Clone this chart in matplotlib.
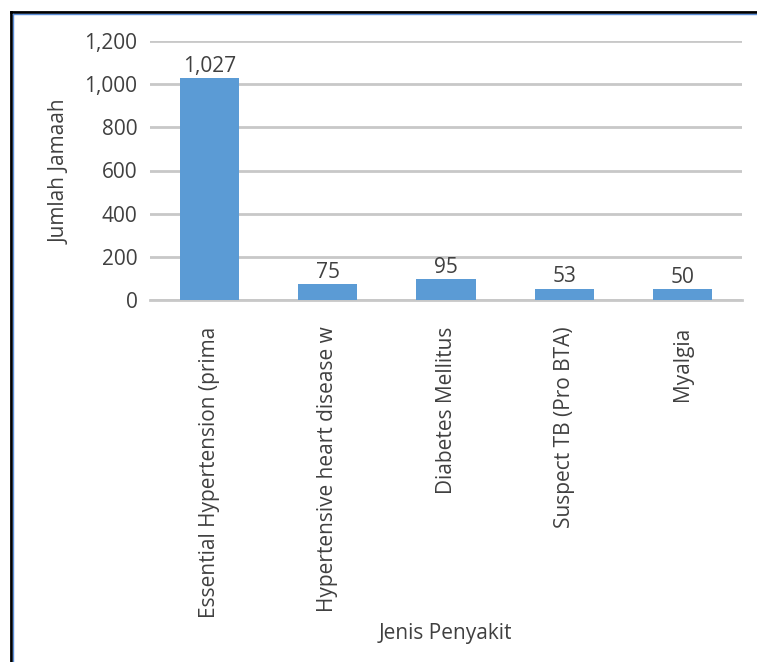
import matplotlib
matplotlib.use("Agg")
import matplotlib.pyplot as plt
from matplotlib.lines import Line2D

categories = ["Essential Hypertension (prima", "Hypertensive heart disease w",
              "Diabetes Mellitus", "Suspect TB (Pro BTA)", "Myalgia"]
values = [1027, 75, 95, 53, 50]
yticks = [0, 200, 400, 600, 800, 1000, 1200]
ytick_labels = ["0", "200", "400", "600", "800", "1,000", "1,200"]

plt.rcParams['font.family'] = ['Open Sans', 'DejaVu Sans']
txt = '#404040'
fs = 15

W, H = 757, 662
fig = plt.figure(figsize=(W/100, H/100), dpi=100)
ax = fig.add_axes([150/W, 1 - 300/H, (742-150)/W, (300-41)/H])

x = list(range(len(categories)))
bars = ax.bar(x, values, width=0.5, color='#5b9bd5', zorder=3)
for xi, v in zip(x, values):
    ax.text(xi, v + 6, f"{v:,}", ha='center', va='bottom', fontsize=fs, color=txt)

ax.set_xlim(-0.5, len(categories) - 0.5)
ax.set_ylim(0, 1200)
ax.set_yticks(yticks)
ax.set_yticklabels(ytick_labels, fontsize=fs, color=txt)
ax.set_xticks(x)
ax.set_xticklabels(categories, rotation=90, fontsize=fs, color=txt, va='top', ha='center')
ax.tick_params(axis='both', length=0)
ax.tick_params(axis='y', pad=9)
ax.tick_params(axis='x', pad=19)
ax.grid(axis='y', color='#c8c8c8', linewidth=2, zorder=0)
for s in ['top', 'right', 'left']:
    ax.spines[s].set_visible(False)
ax.spines['bottom'].set_color('#c8c8c8')
ax.spines['bottom'].set_linewidth(2)

fig.text(60/W, 1 - 172/H, "Jumlah Jamaah", rotation=90, ha='center', va='center',
         fontsize=fs, color=txt)
fig.text(445/W, 1 - 633/H, "Jenis Penyakit", ha='center', va='center',
         fontsize=fs, color=txt)

# outer frame (top and left edges)
fig.add_artist(Line2D([11/W, 1], [1 - 12/H, 1 - 12/H], color='black', linewidth=2))
fig.add_artist(Line2D([11/W, 11/W], [0, 1 - 12/H], color='black', linewidth=2))
fig.add_artist(Line2D([13/W, 1], [1 - 14/H, 1 - 14/H], color='#5b8ed8', linewidth=1))
fig.add_artist(Line2D([13/W, 13/W], [0, 1 - 14/H], color='#5b8ed8', linewidth=1))

fig.savefig("out.png", dpi=100)
